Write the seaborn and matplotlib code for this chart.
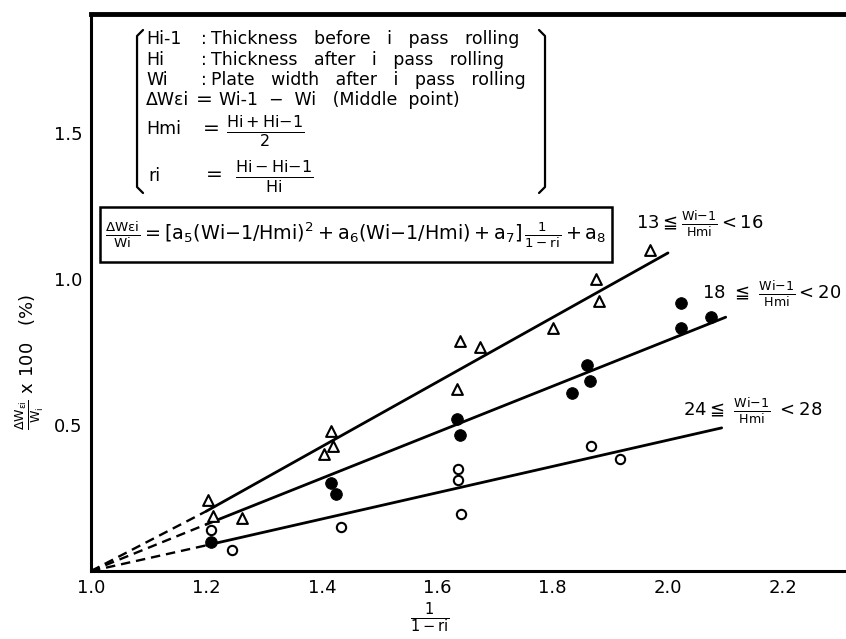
import matplotlib
matplotlib.use("Agg")
import matplotlib.pyplot as plt
from matplotlib.patches import Rectangle
import seaborn as sns

# data
tri_x = [1.202, 1.212, 1.262, 1.403, 1.416, 1.419, 1.634, 1.640, 1.674, 1.800, 1.876, 1.881, 1.969]
tri_y = [0.243, 0.188, 0.180, 0.400, 0.479, 0.428, 0.623, 0.788, 0.767, 0.832, 1.000, 0.925, 1.100]

dot_x = [1.208, 1.416, 1.425, 1.634, 1.640, 1.833, 1.859, 1.864, 2.022, 2.022, 2.074]
dot_y = [0.100, 0.300, 0.263, 0.520, 0.466, 0.610, 0.705, 0.650, 0.917, 0.832, 0.870]

ring_x = [1.208, 1.245, 1.434, 1.636, 1.636, 1.641, 1.866, 1.916]
ring_y = [0.140, 0.072, 0.150, 0.350, 0.310, 0.195, 0.428, 0.383]

# fitted lines: dashed part from the origin, then solid part
dash_x = [1.0, 1.2]
dash_y = {"13-16": [0.0, 0.205], "18-20": [0.0, 0.160], "24-28": [0.0, 0.088]}
solid_x = {"13-16": [1.2, 2.000], "18-20": [1.2, 2.100], "24-28": [1.2, 2.093]}
solid_y = {"13-16": [0.205, 1.089], "18-20": [0.160, 0.869], "24-28": [0.088, 0.490]}

x_ticks = [1.0, 1.2, 1.4, 1.6, 1.8, 2.0, 2.2]
y_ticks = [0.5, 1.0, 1.5]

sns.set_style("white")
plt.rcParams['font.family'] = ['DejaVu Sans']
plt.rcParams['mathtext.default'] = 'regular'
plt.rcParams['text.color'] = 'black'
plt.rcParams['xtick.color'] = 'black'
plt.rcParams['ytick.color'] = 'black'

fig = plt.figure(figsize=(8.46, 6.39), dpi=100)
ax = fig.add_axes([0.1076, 0.1064, 0.8924, 0.8717])

# lines
for key in dash_y:
    sns.lineplot(x=dash_x, y=dash_y[key], ax=ax, color="black", linewidth=1.7,
                 linestyle=(0, (4, 2.5)), legend=False)
    sns.lineplot(x=solid_x[key], y=solid_y[key], ax=ax, color="black", linewidth=2.0,
                 legend=False)

# markers
sns.scatterplot(x=tri_x, y=tri_y, ax=ax, marker="^", s=60, facecolor="white",
                edgecolor="black", linewidth=1.5, zorder=3)
sns.scatterplot(x=dot_x, y=dot_y, ax=ax, marker="o", s=70, color="black",
                edgecolor="black", zorder=3)
sns.scatterplot(x=ring_x, y=ring_y, ax=ax, marker="o", s=45, facecolor="white",
                edgecolor="black", linewidth=1.5, zorder=3)

ax.set_xlim(1.0, 2.3085)
ax.set_ylim(0, 1.907)
ax.set_xticks(x_ticks)
ax.set_xticklabels([f"{t:.1f}" for t in x_ticks])
ax.set_yticks(y_ticks)
ax.set_yticklabels([f"{t:.1f}" for t in y_ticks])
ax.tick_params(direction="in", length=11, width=2, labelsize=13, pad=6)
ax.spines["right"].set_visible(False)
ax.spines["left"].set_linewidth(2.2)
ax.spines["bottom"].set_linewidth(2.2)
ax.spines["top"].set_linewidth(3.5)
for s in ["left", "bottom", "top"]:
    ax.spines[s].set_color("black")


def P(px, py):
    # pixel position in the picture -> axes fraction
    return ((px - 91) / 755, (571 - py) / 557)


tr = ax.transAxes
fs = 12.5
sp = "   "

# definitions block with brackets
bl, br, bt, bb = 137, 545, 30, 193
ax.plot(*zip(P(bl + 6, bt), P(bl, bt + 6), P(bl, bb - 6), P(bl + 6, bb)),
        transform=tr, color="black", lw=1.6, clip_on=False)
ax.plot(*zip(P(br - 6, bt), P(br, bt + 6), P(br, bb - 6), P(br - 6, bb)),
        transform=tr, color="black", lw=1.6, clip_on=False)

rows = [("Hi-1", sp.join(["Thickness", "before", "i", "pass", "rolling"]), 39),
        ("Hi", sp.join(["Thickness", "after", "i", "pass", "rolling"]), 60),
        ("Wi", sp.join(["Plate", "width", "after", "i", "pass", "rolling"]), 80)]
for lab, desc, py in rows:
    ax.text(*P(146, py), lab, transform=tr, fontsize=fs, va="center")
    ax.text(*P(201, py), ":", transform=tr, fontsize=fs, va="center")
    ax.text(*P(211, py), desc, transform=tr, fontsize=fs, va="center")

ax.text(*P(146, 100), "ΔWεi", transform=tr, fontsize=fs, va="center")
ax.text(*P(196, 100), "=", transform=tr, fontsize=fs + 2, va="center")
ax.text(*P(219, 100), "Wi-1  −  Wi   (Middle  point)", transform=tr, fontsize=fs, va="center")

ax.text(*P(146, 129), "Hmi", transform=tr, fontsize=fs, va="center")
ax.text(*P(203, 129), "=", transform=tr, fontsize=fs + 2, va="center")
ax.text(*P(226, 131), r"$\frac{Hi+Hi{-}1}{2}$", transform=tr, fontsize=fs + 4, va="center")

ax.text(*P(148, 176), "ri", transform=tr, fontsize=fs, va="center")
ax.text(*P(206, 175), "=", transform=tr, fontsize=fs + 2, va="center")
ax.text(*P(235, 177), r"$\frac{Hi-Hi{-}1}{Hi}$", transform=tr, fontsize=fs + 4, va="center")

# model equation in a box
x0, y0 = P(100, 262)
x1, y1 = P(612, 207)
ax.add_patch(Rectangle((x0, y0), x1 - x0, y1 - y0, transform=tr, facecolor="white",
                       edgecolor="black", linewidth=1.8, zorder=4))
ax.text(*P(356, 235),
        r"$\frac{\Delta W\varepsilon i}{Wi}=[a_5(Wi{-}1/Hmi)^2+a_6(Wi{-}1/Hmi)+a_7]\,\frac{1}{1-ri}+a_8$",
        transform=tr, fontsize=13.8, ha="center", va="center", zorder=5)

# group labels
ax.text(*P(636, 224), r"$13\leqq\frac{Wi{-}1}{Hmi}<16$", transform=tr, fontsize=13, va="center")
ax.text(*P(702, 294), r"$18\ \leqq\ \frac{Wi{-}1}{Hmi}<20$", transform=tr, fontsize=13, va="center")
ax.text(*P(683, 411), r"$24\leqq\ \frac{Wi{-}1}{Hmi}\ <28$", transform=tr, fontsize=13, va="center")

# axis labels
ax.text(*P(30, 362), r"$\frac{\Delta W_{\varepsilon i}}{W_i}$ x 100   (%)", transform=tr,
        fontsize=13, rotation=90, ha="center", va="center")
ax.text(*P(430, 618), r"$\frac{1}{1-ri}$", transform=tr, fontsize=15, ha="center", va="center")

fig.savefig("out.png", dpi=100)
